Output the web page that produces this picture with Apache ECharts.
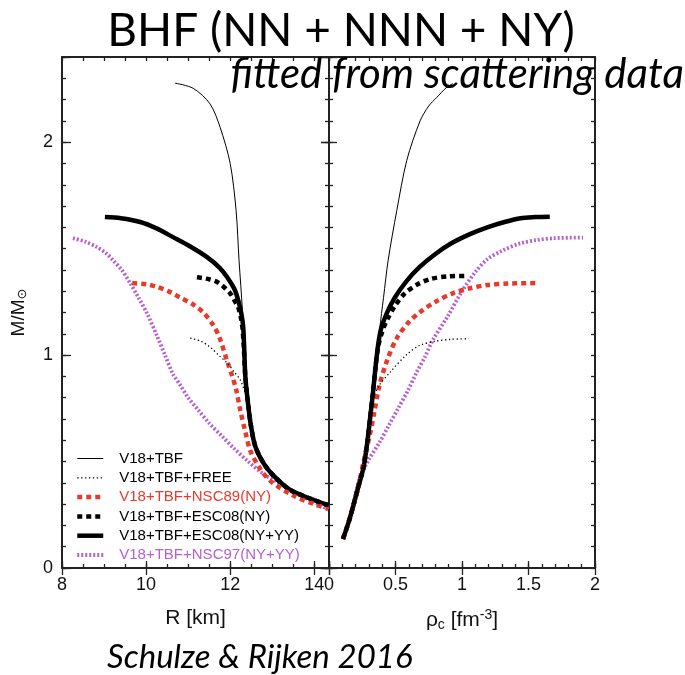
<!DOCTYPE html>
<html><head><meta charset="utf-8">
<script src="https://cdn.jsdelivr.net/npm/echarts@6/dist/echarts.min.js"></script>
<style>html,body{margin:0;padding:0;background:#fff}#c{width:685px;height:675px}</style>
</head><body><div id="c"></div>
<script>
// ---------- data ----------
const seriesNames = ['V18+TBF','V18+TBF+FREE','V18+TBF+NSC89(NY)','V18+TBF+ESC08(NY)','V18+TBF+ESC08(NY+YY)','V18+TBF+NSC97(NY+YY)'];
const xTicksR = [8, 10, 12, 14];
const xTicksRho = [0, 0.5, 1, 1.5, 2];
const yTicksM = [0, 1, 2];

// Left panel: radius R [km] vs mass M/Msun
const R_tbf   = [10.69, 11.12, 11.52, 11.76, 12.0, 12.14, 12.21, 12.29, 12.33, 12.36, 12.42, 12.5, 12.6, 12.8, 13.0, 13.4, 13.85, 14.33];
const M_tbf_L = [2.277, 2.253, 2.18, 2.07, 1.90, 1.68, 1.446, 1.21, 1.0, 0.9, 0.78, 0.66, 0.57, 0.49, 0.44, 0.37, 0.33, 0.295];

const R_free   = [11.05, 11.3, 11.52, 11.75, 11.93, 12.1, 12.24, 12.36, 12.42, 12.5, 12.6, 12.8, 13.0, 13.4, 13.85, 14.33];
const M_free_L = [1.08, 1.065, 1.038, 0.995, 0.962, 0.92, 0.883, 0.82, 0.78, 0.66, 0.57, 0.49, 0.44, 0.37, 0.33, 0.295];

const R_nsc89   = [9.67, 10.0, 10.26, 10.55, 10.81, 11.1, 11.36, 11.6, 11.75, 11.93, 12.05, 12.14, 12.24, 12.36, 12.48, 12.7, 12.95, 13.5, 14.0, 14.33];
const M_nsc89_L = [1.338, 1.333, 1.32, 1.298, 1.27, 1.24, 1.2, 1.14, 1.08, 0.97, 0.9, 0.84, 0.74, 0.64, 0.55, 0.47, 0.41, 0.34, 0.3, 0.278];

const R_ny   = [11.21, 11.5, 11.69, 11.85, 12.0, 12.12, 12.19, 12.25, 12.29, 12.32, 12.36, 12.42, 12.5, 12.6, 12.8, 13.0, 13.4, 13.85, 14.33];
const M_ny_L = [1.366, 1.356, 1.343, 1.32, 1.29, 1.25, 1.225, 1.18, 1.13, 1.05, 0.9, 0.78, 0.66, 0.57, 0.49, 0.44, 0.37, 0.33, 0.295];

const R_nyyy   = [9.02, 9.4, 9.86, 10.25, 10.64, 11.05, 11.45, 11.75, 11.93, 12.1, 12.19, 12.27, 12.31, 12.33, 12.36, 12.42, 12.5, 12.6, 12.8, 13.0, 13.4, 13.85, 14.33];
const M_nyyy_L = [1.648, 1.643, 1.625, 1.595, 1.554, 1.51, 1.46, 1.41, 1.366, 1.31, 1.258, 1.19, 1.13, 1.05, 0.9, 0.78, 0.66, 0.57, 0.49, 0.44, 0.37, 0.33, 0.295];

const R_nsc97   = [8.26, 8.55, 8.83, 9.05, 9.21, 9.42, 9.62, 9.82, 10.02, 10.26, 10.45, 10.64, 10.81, 11.0, 11.25, 11.5, 11.8, 12.1, 12.4, 12.8, 13.2, 13.67, 14.0, 14.33];
const M_nsc97_L = [1.549, 1.533, 1.507, 1.478, 1.446, 1.40, 1.338, 1.27, 1.197, 1.09, 1.0, 0.91, 0.86, 0.80, 0.74, 0.68, 0.62, 0.56, 0.505, 0.44, 0.395, 0.34, 0.31, 0.275];

// Right panel: central density rho_c [fm^-3] vs mass M/Msun
const rho_tbf   = [0.105, 0.15, 0.18, 0.22, 0.26, 0.29, 0.31, 0.33, 0.35, 0.36, 0.38, 0.41, 0.445, 0.51, 0.585, 0.685, 0.75, 0.81, 0.88, 0.93];
const M_tbf_R   = [0.136, 0.22, 0.286, 0.38, 0.474, 0.6, 0.709, 0.82, 0.944, 1.02, 1.12, 1.27, 1.446, 1.68, 1.915, 2.10, 2.17, 2.21, 2.255, 2.275];

const rho_free  = [0.105, 0.15, 0.18, 0.22, 0.26, 0.29, 0.31, 0.33, 0.38, 0.46, 0.58, 0.68, 0.8, 0.92, 1.05];
const M_free_R  = [0.136, 0.22, 0.286, 0.38, 0.474, 0.6, 0.709, 0.79, 0.86, 0.92, 1.0, 1.045, 1.065, 1.074, 1.077];

const rho_nsc89 = [0.105, 0.15, 0.18, 0.22, 0.26, 0.31, 0.34, 0.38, 0.44, 0.51, 0.6, 0.68, 0.8, 0.93, 1.06, 1.19, 1.35, 1.56];
const M_nsc89_R = [0.136, 0.22, 0.286, 0.38, 0.5, 0.634, 0.73, 0.86, 0.98, 1.08, 1.155, 1.2, 1.25, 1.29, 1.314, 1.329, 1.336, 1.338];

const rho_ny    = [0.105, 0.15, 0.18, 0.22, 0.26, 0.29, 0.31, 0.33, 0.35, 0.37, 0.40, 0.44, 0.5, 0.57, 0.66, 0.76, 0.9, 1.04];
const M_ny_R    = [0.136, 0.22, 0.286, 0.38, 0.474, 0.6, 0.709, 0.82, 0.944, 1.04, 1.11, 1.17, 1.235, 1.29, 1.33, 1.357, 1.37, 1.372];

const rho_nyyy  = [0.105, 0.15, 0.18, 0.22, 0.26, 0.29, 0.31, 0.33, 0.35, 0.37, 0.39, 0.43, 0.49, 0.58, 0.68, 0.8, 0.92, 1.06, 1.19, 1.32, 1.44, 1.55, 1.66];
const M_nyyy_R  = [0.136, 0.22, 0.286, 0.38, 0.474, 0.6, 0.709, 0.82, 0.944, 1.05, 1.12, 1.19, 1.265, 1.345, 1.413, 1.475, 1.525, 1.568, 1.6, 1.625, 1.643, 1.648, 1.65];

const rho_nsc97 = [0.105, 0.15, 0.19, 0.23, 0.3, 0.38, 0.45, 0.52, 0.59, 0.66, 0.72, 0.78, 0.89, 1.0, 1.1, 1.19, 1.3, 1.44, 1.56, 1.69, 1.91];
const M_nsc97_R = [0.136, 0.22, 0.32, 0.42, 0.51, 0.59, 0.67, 0.75, 0.83, 0.92, 0.99, 1.07, 1.18, 1.30, 1.39, 1.45, 1.49, 1.525, 1.54, 1.549, 1.552];

// ---------- chart ----------
const zip = (a, b) => a.map((v, i) => [v, b[i]]);
const LEFT = [[R_tbf, M_tbf_L], [R_free, M_free_L], [R_nsc89, M_nsc89_L], [R_ny, M_ny_L], [R_nyyy, M_nyyy_L], [R_nsc97, M_nsc97_L]];
const RIGHT = [[rho_tbf, M_tbf_R], [rho_free, M_free_R], [rho_nsc89, M_nsc89_R], [rho_ny, M_ny_R], [rho_nyyy, M_nyyy_R], [rho_nsc97, M_nsc97_R]];

const RED = '#e63a2c', PURPLE = '#b660d0', BLACK = '#000';
const styles = [
  {color: BLACK, width: 1, type: 'solid'},
  {color: BLACK, width: 1.3, type: [1.3, 2.6]},
  {color: RED, width: 4.5, type: [5, 4]},
  {color: BLACK, width: 4.5, type: [5, 4]},
  {color: BLACK, width: 4.5, type: 'solid'},
  {color: PURPLE, width: 3.8, type: [2, 2]}
];
const zOrder = [6, 5, 3, 4, 2, 1];
const FONT = 'Liberation Sans';
const FRAME = '#222';

const near = (v, list) => list.some(t => Math.abs(v - t) < 1e-6);

function xAxes(grid, min, max, minorInt, majorInt, labels, name) {
  return [
    {gridIndex: grid, type: 'value', position: 'bottom', min, max, interval: minorInt,
     axisLine: {show: true, onZero: false, lineStyle: {color: FRAME, width: 2}},
     axisTick: {show: true, inside: true, length: 4, lineStyle: {color: FRAME, width: 1.3}},
     axisLabel: {show: true, margin: 8, color: '#111', fontSize: 18, fontFamily: FONT,
       showMinLabel: true, showMaxLabel: true,
       formatter: v => near(v, labels) ? String(Math.round(v * 10) / 10) : ''},
     splitLine: {show: false}, name: name.text, nameLocation: 'middle', nameGap: name.gap,
     nameTextStyle: {fontSize: 21, fontFamily: FONT, color: '#111', rich: name.rich || {}}},
    {gridIndex: grid, type: 'value', position: 'bottom', min, max, interval: majorInt,
     axisLine: {show: false}, axisTick: {show: true, inside: true, length: 7, lineStyle: {color: FRAME, width: 1.3}},
     axisLabel: {show: false}, splitLine: {show: false}},
    {gridIndex: grid, type: 'value', position: 'top', min, max, interval: minorInt,
     axisLine: {show: true, onZero: false, lineStyle: {color: FRAME, width: 2}},
     axisTick: {show: true, inside: true, length: 4, lineStyle: {color: FRAME, width: 1.3}},
     axisLabel: {show: false}, splitLine: {show: false}},
    {gridIndex: grid, type: 'value', position: 'top', min, max, interval: majorInt,
     axisLine: {show: false}, axisTick: {show: true, inside: true, length: 7, lineStyle: {color: FRAME, width: 1.3}},
     axisLabel: {show: false}, splitLine: {show: false}}
  ];
}
function yAxes(grid, showLabels) {
  const base = {gridIndex: grid, type: 'value', min: 0, max: 2.4, splitLine: {show: false}};
  return [
    Object.assign({}, base, {position: 'left', interval: 0.1,
      axisLine: {show: true, onZero: false, lineStyle: {color: FRAME, width: 2}},
      axisTick: {show: true, inside: true, length: 4, lineStyle: {color: FRAME, width: 1.3}},
      axisLabel: {show: false},
      name: showLabels ? 'M/M{s|⊙}' : '', nameLocation: 'middle', nameGap: 33, nameRotate: 90,
      nameTextStyle: {fontSize: 19, fontFamily: FONT, color: '#111',
        rich: {s: {fontSize: 13, fontFamily: 'DejaVu Sans', color: '#111', padding: [8, 0, 0, 0]}}}}),
    Object.assign({}, base, {position: 'left', interval: 1,
      axisLine: {show: false}, axisTick: {show: true, inside: true, length: showLabels ? 9 : 8, lineStyle: {color: FRAME, width: 1.3}},
      axisLabel: {show: showLabels, margin: 9, color: '#111', fontSize: 18, fontFamily: FONT,
        formatter: v => near(v, yTicksM) ? String(Math.round(v)) : ''}}),
    Object.assign({}, base, {position: 'right', interval: 0.1,
      axisLine: {show: true, onZero: false, lineStyle: {color: FRAME, width: 2}},
      axisTick: {show: true, inside: true, length: 4, lineStyle: {color: FRAME, width: 1.3}},
      axisLabel: {show: false}}),
    Object.assign({}, base, {position: 'right', interval: 1,
      axisLine: {show: false}, axisTick: {show: true, inside: true, length: 8, lineStyle: {color: FRAME, width: 1.3}},
      axisLabel: {show: false}})
  ];
}

const series = [];
[LEFT, RIGHT].forEach((panel, p) => {
  panel.forEach((pair, i) => {
    series.push({
      name: seriesNames[i], type: 'line', xAxisIndex: p * 4, yAxisIndex: p * 4,
      data: zip(pair[0], pair[1]), showSymbol: false, symbol: 'none', smooth: 0.3,
      color: styles[i].color, itemStyle: {color: styles[i].color},
      z: zOrder[i], lineStyle: Object.assign({}, styles[i], {cap: 'butt'}), silent: true, animation: false
    });
  });
});

const legendColors = [BLACK, BLACK, RED, BLACK, BLACK, PURPLE];

const option = {
  animation: false,
  grid: [
    {left: 62, top: 57, width: 267, height: 511, containLabel: false},
    {left: 329, top: 57, width: 266, height: 511, containLabel: false}
  ],
  xAxis: [].concat(
    xAxes(0, 8, 14.35, 0.5, 2, xTicksR, {text: 'R [km]', gap: 40}),
    xAxes(1, 0, 2, 0.1, 0.5, xTicksRho, {text: '{r|ρ}{c|c} [fm{p|-3}]', gap: 40,
      rich: {r: {fontSize: 21, fontFamily: FONT, color: '#111'},
             c: {fontSize: 14, fontFamily: FONT, color: '#111', padding: [10, 0, 0, 0]},
             p: {fontSize: 14, fontFamily: FONT, color: '#111', padding: [0, 0, 10, 0]}}})
  ),
  yAxis: [].concat(yAxes(0, true), yAxes(1, false)),
  legend: {
    orient: 'vertical', left: 70, top: 446, itemWidth: 26, itemHeight: 12, itemGap: 4.3,
    itemStyle: {color: 'rgba(0,0,0,0)', opacity: 0, borderWidth: 0},
    textStyle: {fontSize: 15, fontFamily: FONT, color: '#111', padding: [0, 0, 0, 11]},
    data: seriesNames.map((n, i) => ({
      name: n, textStyle: {color: legendColors[i]},
      lineStyle: {width: styles[i].width, type: styles[i].type, color: styles[i].color, cap: 'butt'}
    })),
    selectedMode: false
  },
  graphic: [
    {type: 'text', x: 341, y: 31, style: {text: 'BHF (NN + NNN + NY)', font: '46px Lato', fill: '#000', align: 'center', verticalAlign: 'middle'}},
    {type: 'text', x: 684, y: 74, z: 100, style: {text: 'fitted from scattering data', font: 'italic 42px Lato', fill: '#000', align: 'right', verticalAlign: 'middle'}},
    {type: 'text', x: 107, y: 657, style: {text: 'Schulze & Rijken 2016', font: 'italic 33px Lato', fill: '#000', align: 'left', verticalAlign: 'middle'}}
  ],
  series
};
const chart = echarts.init(document.getElementById('c'), null, {renderer: 'canvas'});
chart.setOption(option);
</script>
</body></html>
